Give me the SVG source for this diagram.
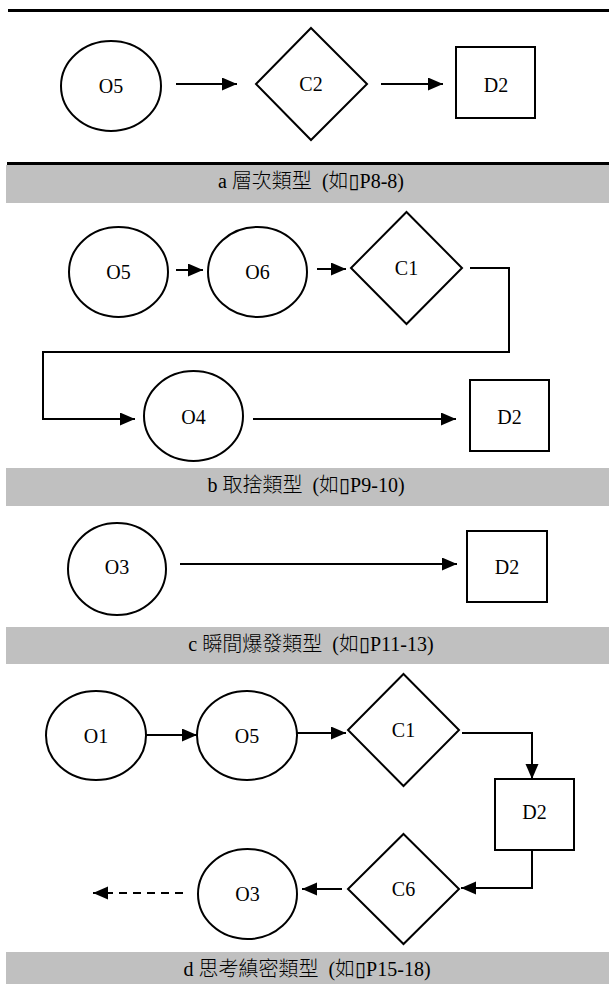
<svg xmlns="http://www.w3.org/2000/svg" width="609" height="986" viewBox="0 0 609 986">
  <style>
    .shape { fill: #ffffff; stroke: #000000; stroke-width: 2; }
    .link { fill: none; stroke: #000000; stroke-width: 2; }
    .dash { stroke-dasharray: 8 6; }
    .band { fill: #c0c0c0; }
    .rule { stroke: #000000; stroke-width: 3; }
  </style>
  <defs>
    <marker id="arrow" markerUnits="userSpaceOnUse" markerWidth="16" markerHeight="14" refX="15" refY="6.5" orient="auto">
      <path d="M0,0 L15,6.5 L0,13 z" fill="#000000"/>
    </marker>
  </defs>

  <!-- top rule -->
  <line class="rule" x1="8" y1="10.5" x2="609" y2="10.5"/>

  <g font-family="Liberation Serif, Times New Roman, DejaVu Serif, serif" font-size="20" text-anchor="middle" fill="#000000">
    <!-- ===== a ===== -->
    <g id="a-O5"><ellipse class="shape" cx="111" cy="86" rx="50" ry="45"/><text x="111" y="93">O5</text></g>
    <g id="a-C2"><polygon class="shape" points="311,28 367,84 311,140 256,84"/><text x="311" y="91">C2</text></g>
    <g id="a-D2"><rect class="shape" x="456" y="47" width="79" height="71"/><text x="496" y="92">D2</text></g>
    <g id="band-a">
      <line class="rule" x1="7" y1="163.5" x2="609" y2="163.5"/>
      <rect class="band" x="6" y="165" width="603" height="38"/>
      <text x="311" y="188">a <tspan font-family="Noto Sans CJK TC, sans-serif" font-weight="300">層次類型</tspan><tspan dx="10">(</tspan><tspan font-family="Noto Sans CJK TC, sans-serif" font-weight="300">如</tspan>▯P8-8)</text>
    </g>

    <!-- ===== b ===== -->
    <g id="b-O5"><ellipse class="shape" cx="118.5" cy="272" rx="49.5" ry="45"/><text x="118.5" y="279">O5</text></g>
    <g id="b-O6"><ellipse class="shape" cx="257.5" cy="272" rx="49.5" ry="45"/><text x="257.5" y="279">O6</text></g>
    <g id="b-C1"><polygon class="shape" points="406.5,212 462,268 406.5,324 351,268"/><text x="406.5" y="275">C1</text></g>
    <g id="b-O4"><ellipse class="shape" cx="193.5" cy="416" rx="49.5" ry="45"/><text x="193.5" y="424">O4</text></g>
    <g id="b-D2"><rect class="shape" x="470" y="380" width="79" height="71"/><text x="509.5" y="424">D2</text></g>
    <g id="band-b">
      <rect class="band" x="6" y="468" width="603" height="38"/>
      <text x="306" y="492">b <tspan font-family="Noto Sans CJK TC, sans-serif" font-weight="300">取捨類型</tspan><tspan dx="10">(</tspan><tspan font-family="Noto Sans CJK TC, sans-serif" font-weight="300">如</tspan>▯P9-10)</text>
    </g>

    <!-- ===== c ===== -->
    <g id="c-O3"><ellipse class="shape" cx="117" cy="569" rx="49" ry="46"/><text x="117" y="574">O3</text></g>
    <g id="c-D2"><rect class="shape" x="467" y="531" width="80" height="71"/><text x="507" y="574">D2</text></g>
    <g id="band-c">
      <rect class="band" x="6" y="627" width="603" height="37"/>
      <text x="311" y="651">c <tspan font-family="Noto Sans CJK TC, sans-serif" font-weight="300">瞬間爆發類型</tspan><tspan dx="10">(</tspan><tspan font-family="Noto Sans CJK TC, sans-serif" font-weight="300">如</tspan>▯P11-13)</text>
    </g>

    <!-- ===== d ===== -->
    <g id="d-O1"><ellipse class="shape" cx="96" cy="735.5" rx="50" ry="44.5"/><text x="96" y="743">O1</text></g>
    <g id="d-O5"><ellipse class="shape" cx="247" cy="735.5" rx="50" ry="44.5"/><text x="247" y="743">O5</text></g>
    <g id="d-C1"><polygon class="shape" points="403.5,674 459,730 403.5,786 348,730"/><text x="403.5" y="737">C1</text></g>
    <g id="d-D2"><rect class="shape" x="495" y="779" width="79" height="71"/><text x="534.5" y="819">D2</text></g>
    <g id="d-C6"><polygon class="shape" points="403.5,834 459,889 403.5,944 348,889"/><text x="403.5" y="896">C6</text></g>
    <g id="d-O3"><ellipse class="shape" cx="247.5" cy="894" rx="49.5" ry="45"/><text x="247.5" y="901">O3</text></g>
    <g id="band-d">
      <rect class="band" x="6" y="952" width="603" height="32"/>
      <text x="307" y="976">d <tspan font-family="Noto Sans CJK TC, sans-serif" font-weight="300">思考縝密類型</tspan><tspan dx="10">(</tspan><tspan font-family="Noto Sans CJK TC, sans-serif" font-weight="300">如</tspan>▯P15-18)</text>
    </g>
  </g>

  <!-- connectors -->
  <g id="connectors">
    <line class="link" x1="176" y1="84" x2="237" y2="84" marker-end="url(#arrow)"/>
    <line class="link" x1="381" y1="84" x2="443" y2="84" marker-end="url(#arrow)"/>

    <line class="link" x1="176" y1="270" x2="203" y2="270" marker-end="url(#arrow)"/>
    <line class="link" x1="317" y1="269" x2="346" y2="269" marker-end="url(#arrow)"/>
    <path class="link" d="M470,268 H509 V352 H43 V419 H135" marker-end="url(#arrow)"/>
    <line class="link" x1="253" y1="419" x2="456" y2="419" marker-end="url(#arrow)"/>

    <line class="link" x1="180" y1="564" x2="457" y2="564" marker-end="url(#arrow)"/>

    <line class="link" x1="146" y1="735" x2="197" y2="735" marker-end="url(#arrow)"/>
    <line class="link" x1="297" y1="733" x2="346" y2="733" marker-end="url(#arrow)"/>
    <path class="link" d="M462,733 H532 V779" marker-end="url(#arrow)"/>
    <path class="link" d="M532,850 V888 H461" marker-end="url(#arrow)"/>
    <line class="link" x1="342" y1="889" x2="302" y2="889" marker-end="url(#arrow)"/>
    <line class="link dash" x1="183" y1="893" x2="93" y2="893" marker-end="url(#arrow)"/>
  </g>
</svg>
